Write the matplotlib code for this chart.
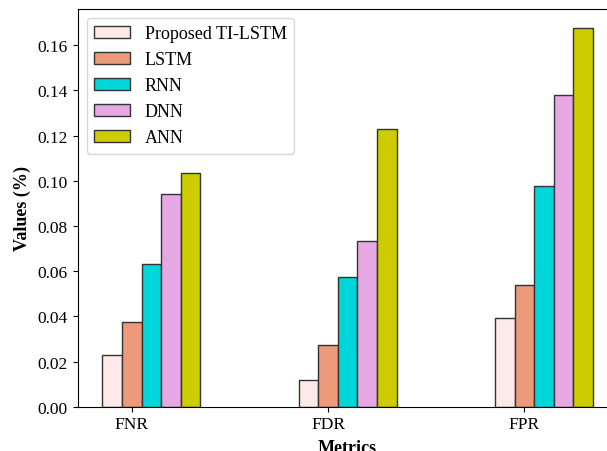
"""Grouped bar chart of FNR / FDR / FPR for the compared models."""
import matplotlib
matplotlib.use("Agg")
import matplotlib.pyplot as plt
import numpy as np

metrics = ["FNR", "FDR", "FPR"]
models = ["Proposed TI-LSTM", "LSTM", "RNN", "DNN", "ANN"]
proposed = [0.0230, 0.0118, 0.0391]
lstm = [0.0375, 0.0274, 0.0538]
rnn = [0.0633, 0.0575, 0.0975]
dnn = [0.0942, 0.0732, 0.1382]
ann = [0.1034, 0.1229, 0.1677]

colors = ["#fde9e7", "#ec9a79", "#00d6da", "#e6a8e3", "#cccc00"]

plt.rcParams["font.family"] = ["Liberation Serif", "DejaVu Serif"]
plt.rcParams["font.size"] = 12.5

fig = plt.figure(figsize=(6.07, 4.52), dpi=100)
# axes run past the right edge, like the cropped original
ax = fig.add_axes([0.128, 0.098, 0.8895, 0.880])

x = np.arange(len(metrics))
width = 0.1
series = [proposed, lstm, rnn, dnn, ann]
for i, (name, vals) in enumerate(zip(models, series)):
    ax.bar(x + (i - 1) * width, vals, width, label=name, color=colors[i],
           edgecolor="#333333", linewidth=1.0)

ax.set_xticks(x)
ax.set_xticklabels(metrics)
ax.set_ylabel("Values (%)", fontweight="bold", fontsize=13, labelpad=5)
ax.set_xlabel("Metrics", fontweight="bold", fontsize=13, labelpad=5)
ax.set_yticks(np.arange(0, 0.17, 0.02))
ax.set_yticklabels([f"{v:.2f}" for v in np.arange(0, 0.17, 0.02)])
ax.spines["right"].set_visible(False)
ax.legend(loc="upper left", fontsize=13)

fig.savefig("out.png", dpi=100)
plt.close(fig)
